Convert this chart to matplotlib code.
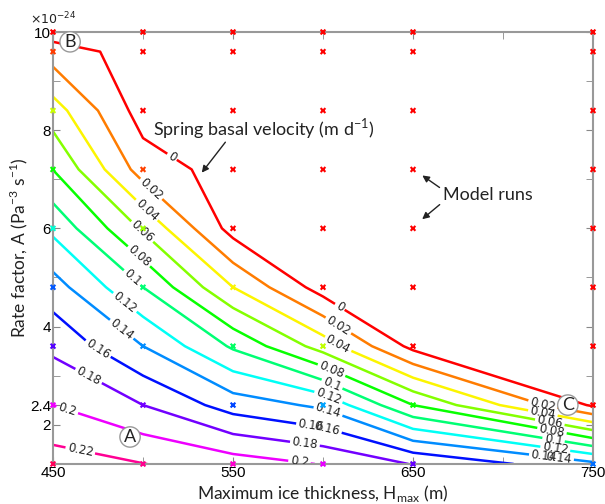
import numpy as np
import matplotlib
matplotlib.use("Agg")
import matplotlib.pyplot as plt
from matplotlib.colors import Normalize

# model run grid
thickness = [450, 500, 550, 600, 650, 750]
rate = [1.2, 2.4, 3.6, 4.8, 6.0, 7.2, 8.4, 9.6, 10.0]

# spring basal velocity (m/d), one list per thickness, bottom to top of the rate axis
vel_450 = [0.2296, 0.200, 0.1755, 0.1487, 0.1152, 0.0797, 0.0492, 0.0099, -0.0099]
vel_500 = [0.2205, 0.180, 0.140, 0.100, 0.057, 0.0106, -0.0093, -0.009, -0.010]
vel_550 = [0.210, 0.151, 0.097, 0.040, -0.008, -0.009, -0.010, -0.010, -0.010]
vel_600 = [0.199, 0.136, 0.051, -0.0095, -0.010, -0.010, -0.010, -0.010, -0.010]
vel_650 = [0.179, 0.080, -0.006, -0.010, -0.010, -0.010, -0.010, -0.010, -0.010]
vel_750 = [0.145, -0.003, -0.010, -0.010, -0.010, -0.010, -0.010, -0.010, -0.010]

levels = [0, 0.02, 0.04, 0.06, 0.08, 0.1, 0.12, 0.14, 0.16, 0.18, 0.2, 0.22]

# where the inline labels sit (data coords)
label_x = [516, 504, 501, 498, 497, 493, 491, 490, 473, 468, 457, 465,
           609, 608, 607, 606, 606, 604, 604, 604, 593, 590, 587,
           722, 722, 726, 727, 728, 729, 731, 730]
label_y = [7.45, 6.78, 6.33, 5.87, 5.40, 4.95, 4.54, 4.03, 3.42, 2.87, 2.20, 1.45,
           4.38, 3.99, 3.56, 3.22, 2.91, 2.65, 2.40, 2.14, 1.89, 1.63, 1.26,
           2.40, 2.21, 2.05, 1.84, 1.68, 1.50, 1.30, 1.22]

V = np.array([vel_450, vel_500, vel_550, vel_600, vel_650, vel_750]).T
X, Y = np.meshgrid(thickness, rate)

norm = Normalize(0, 0.24)
cmap = plt.get_cmap("hsv")

fig = plt.figure(figsize=(6.05, 5.04), dpi=100)
ax = fig.add_axes([0.0876, 0.0794, 0.8926, 0.8571])

cs = ax.contour(X, Y, V, levels=levels, cmap=cmap, norm=norm, linewidths=1.8)
ax.clabel(cs, fmt="%g", fontsize=8.5, inline=True, inline_spacing=2,
          manual=list(zip(label_x, label_y)), colors="#222222")

ax.scatter(X.ravel(), Y.ravel(), c=np.clip(V.ravel(), 0, None), cmap=cmap, norm=norm,
           marker="x", s=12, linewidths=1.5, zorder=5, clip_on=False)

ax.set_xlim(450, 750)
ax.set_ylim(1.2, 10)
ax.set_xticks([450, 550, 650, 750])
ax.set_xticks([500, 600, 700], minor=True)
ax.set_yticks([2, 2.4, 4, 6, 8, 10])
ax.set_yticklabels(["2", "2.4", "4", "6", "8", "10"])
ax.set_yticks([3, 5, 7, 9], minor=True)
ax.tick_params(which="both", direction="in", length=5, color="#888888",
               top=True, right=True, labelsize=11, pad=1.5)
for t in ax.get_xticklabels() + ax.get_yticklabels():
    t.set_family("Liberation Sans")
for s in ax.spines.values():
    s.set_color("#999999")
    s.set_linewidth(1.5)

ax.set_xlabel("Maximum ice thickness, H$_{\\mathregular{max}}$ (m)", fontsize=12.5,
              family="Lato", color="#222222")
ax.set_ylabel("Rate factor, A (Pa$^{\\mathregular{-3}}$ s$^{\\mathregular{-1}}$)", fontsize=12.5,
              family="Lato", color="#222222")
ax.xaxis.set_label_coords(0.5, -0.043)
ax.yaxis.set_label_coords(-0.043, 0.5)
ax.text(-0.042, 1.012, "×10$^{\\mathregular{-24}}$", transform=ax.transAxes, fontsize=9,
        ha="left", va="bottom", color="#222222")

circ = dict(boxstyle="circle,pad=0.12", fc="white", ec="#999999", lw=1)
for lab, lx, ly in [("B", 459.5, 9.80), ("A", 492.8, 1.75), ("C", 736, 2.40)]:
    ax.text(lx, ly, lab, fontsize=13, ha="center", va="center", bbox=circ,
            family="Lato", color="#222222", zorder=6)

ax.annotate("", xy=(531.7, 7.09), xytext=(546.7, 7.80),
            arrowprops=dict(arrowstyle="-|>", color="#222222", lw=1, mutation_scale=10))
ax.text(505.6, 8.04, "Spring basal velocity (m d$^{\\mathregular{-1}}$)", fontsize=13,
        family="Lato", ha="left", va="center", color="#222222")
ax.text(666.7, 6.68, "Model runs", fontsize=13, family="Lato", ha="left",
        va="center", color="#222222")
ax.annotate("", xy=(653.9, 7.11), xytext=(666, 6.80),
            arrowprops=dict(arrowstyle="-|>", color="#222222", lw=1, mutation_scale=10))
ax.annotate("", xy=(653.9, 6.15), xytext=(666, 6.52),
            arrowprops=dict(arrowstyle="-|>", color="#222222", lw=1, mutation_scale=10))

fig.savefig("out.png", dpi=100)
